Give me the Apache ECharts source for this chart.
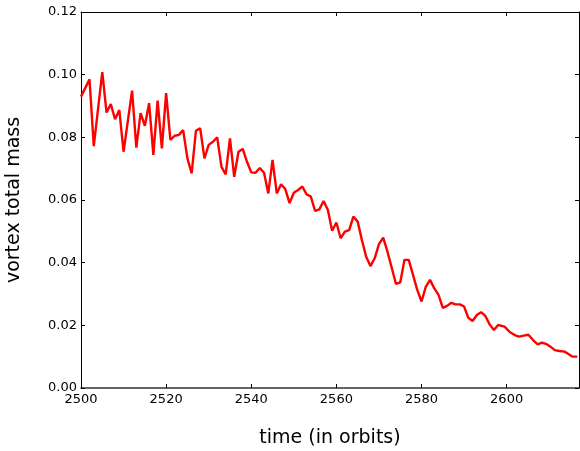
<!DOCTYPE html>
<html>
<head>
<meta charset="utf-8">
<script src="https://cdn.jsdelivr.net/npm/echarts@6/dist/echarts.min.js"></script>
<style>
html,body{margin:0;padding:0;background:#fff;}
#c{width:580px;height:451px;}
</style>
</head>
<body>
<div id="c"></div>
<script>
var times = [2500,2502,2503,2505,2506,2507,2508,2509,2510,2512,2513,2514,2515,2516,2517,2518,2519,2520,
  2521,2522,2523,2524,2525,2526,2527,2528,2529,2530,2531,2532,2533,2534,2535,2536,2537,2538,2539,2540,
  2541,2542,2543,2544,2545,2546,2547,2548,2549,2550,2551,2552,2553,2554,2555,2556,2557,2558,2559,2560,
  2561,2562,2563,2564,2565,2566,2567,2568,2569,2570,2571,2572,2573,2574,2575,2576,2577,2578,2579,2580,
  2581,2582,2583,2584,2585,2586,2587,2588,2589,2590,2591,2592,2593,2594,2595,2596,2597,2598,
  2599.5,2600.8,2601.9,2602.9,2604,2605.1,2606.2,2607.3,2608.3,2609.4,2610.3,2611.3,2612.4,2613.6,2614.6,2615.5,2616.6];
var masses = [0.093,0.0985,0.0772,0.1008,0.0879,0.0906,0.0858,0.0887,0.0754,0.0949,0.0767,0.0877,0.0837,0.0909,0.0744,0.0917,0.0765,0.0941,
  0.0792,0.0805,0.0808,0.0823,0.0733,0.0685,0.0821,0.0829,0.0733,0.0776,0.0786,0.0800,0.0706,0.0682,0.0797,0.0674,0.0754,0.0763,0.0722,0.0688,
  0.0687,0.0702,0.0687,0.0621,0.0728,0.0621,0.0650,0.0635,0.0590,0.0623,0.0632,0.0643,0.0618,0.0611,0.0565,0.0570,0.0597,0.0568,0.0502,0.0528,
  0.0478,0.0499,0.0504,0.0547,0.0531,0.0472,0.0419,0.0389,0.0414,0.0459,0.0480,0.0435,0.0384,0.0332,0.0337,0.0409,0.0409,0.0361,0.0313,0.0276,
  0.0323,0.0345,0.0318,0.0297,0.0256,0.0262,0.0272,0.0267,0.0267,0.0260,0.0224,0.0214,0.0233,0.0242,0.0230,0.0203,0.0185,0.0201,
  0.0196,0.0178,0.0169,0.0164,0.0167,0.0170,0.0153,0.0139,0.0145,0.0140,0.0132,0.0121,0.0118,0.0116,0.0108,0.0100,0.0100];
var xTickLabels = ['2500','2520','2540','2560','2580','2600'];
var yTickLabels = ['0.00','0.02','0.04','0.06','0.08','0.10','0.12'];

var data = times.map(function(t,i){ return [t, masses[i]]; });
var font = 'DejaVu Sans';
var chart = echarts.init(document.getElementById('c'), null, {renderer:'canvas'});
chart.setOption({
  animation:false,
  backgroundColor:'#fff',
  grid:{left:81, right:1, top:12, bottom:63, containLabel:false, outerBoundsMode:'none'},
  xAxis:[{
    type:'value', min:2500, max:2617, interval:20, position:'bottom',
    name:'time (in orbits)', nameLocation:'middle', nameGap:41,
    nameTextStyle:{fontFamily:font, fontSize:19, color:'#000'},
    axisLine:{show:true, onZero:false, lineStyle:{color:'#333', width:1.5}},
    axisTick:{show:true, inside:true, length:4, lineStyle:{color:'#000'}},
    axisLabel:{fontFamily:font, fontSize:13, color:'#000', margin:5,
      formatter:function(v){ var s=String(Math.round(v)); return xTickLabels.indexOf(s)>=0 ? s : ''; }},
    splitLine:{show:false}
  },{
    type:'value', min:2500, max:2617, interval:20, position:'top',
    axisLine:{show:true, onZero:false, lineStyle:{color:'#000', width:1}},
    axisTick:{show:true, inside:true, length:4, lineStyle:{color:'#000'}},
    axisLabel:{show:false}, splitLine:{show:false}
  }],
  yAxis:[{
    type:'value', min:0, max:0.12, interval:0.02, position:'left',
    name:'vortex total mass', nameLocation:'middle', nameGap:57,
    nameTextStyle:{fontFamily:font, fontSize:19, color:'#000'},
    axisLine:{show:true, onZero:false, lineStyle:{color:'#000', width:1}},
    axisTick:{show:true, inside:true, length:4, lineStyle:{color:'#000'}},
    axisLabel:{fontFamily:font, fontSize:13, color:'#000', margin:4,
      formatter:function(v){ var s=v.toFixed(2); return yTickLabels.indexOf(s)>=0 ? s : ''; }},
    splitLine:{show:false}
  },{
    type:'value', min:0, max:0.12, interval:0.02, position:'right',
    axisLine:{show:true, onZero:false, lineStyle:{color:'#000', width:1}},
    axisTick:{show:true, inside:true, length:4, lineStyle:{color:'#000'}},
    axisLabel:{show:false}, splitLine:{show:false}
  }],
  series:[{
    type:'line', data:data, xAxisIndex:0, yAxisIndex:0,
    showSymbol:false, symbol:'none',
    lineStyle:{color:'#ff0000', width:2.4},
    clip:true
  }]
});
</script>
</body>
</html>
